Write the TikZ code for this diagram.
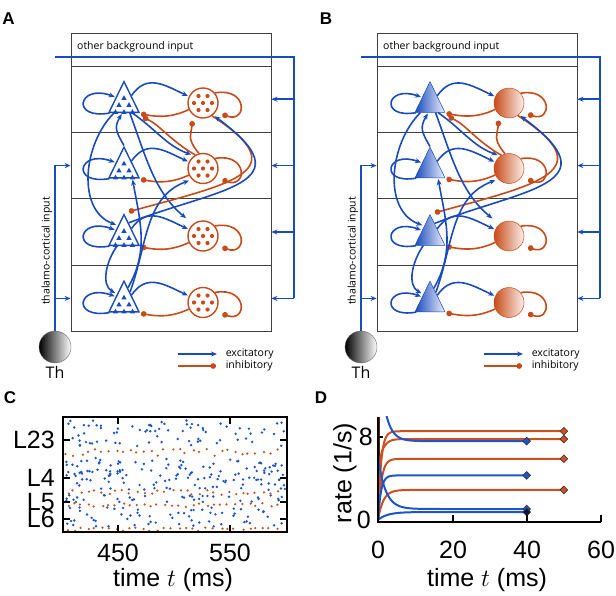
\documentclass[tikz,border=0pt]{standalone}
\usepackage{fontspec}
\setmainfont{Open Sans}
\newfontfamily\plotfont{Liberation Sans}
\usetikzlibrary{arrows.meta,positioning,shapes.geometric}
\definecolor{cblue}{RGB}{25,75,190}
\definecolor{cred}{RGB}{200,75,25}
\definecolor{pblue}{RGB}{30,85,205}
\definecolor{pred}{RGB}{205,80,30}

\begin{document}
\begin{tikzpicture}[x=1pt, y=-1pt,
    exc/.style={draw=cblue, line width=1.6pt, -{Stealth[length=6pt,width=5pt]}},
    inh/.style={draw=cred, line width=1.6pt, -{Circle[length=5.6pt]}},
    feed/.style={draw=cblue, line width=1.6pt},
    layer/.style={draw=black!75, line width=0.8pt, minimum width=200pt, minimum height=66.4pt, inner sep=0pt},
    epop/.style={isosceles triangle, isosceles triangle apex angle=52, shape border rotate=90,
                 draw=cblue, minimum width=30pt, minimum height=30pt, inner sep=0pt},
    ipop/.style={circle, draw=cred, minimum size=30pt, inner sep=0pt},
    thball/.style={circle, draw=black!60, line width=0.4pt, left color=black, right color=white,
                   minimum size=32pt, inner sep=0pt},
    txt/.style={font=\fontsize{10.5}{12}\selectfont, inner sep=0pt},
    ticklab/.style={font=\plotfont\fontsize{25}{30}\selectfont, inner sep=0pt},
    letter/.style={font=\plotfont\bfseries\fontsize{17}{20}\selectfont, inner sep=0pt},
]
\useasboundingbox (0,0) rectangle (616,595);

% Panel letters
\node[letter] (labA) at (8.5,19) {A};
\node[letter] (labB) at (326,19) {B};
\node[letter] (labC) at (10,398) {C};
\node[letter] (labD) at (321,398) {D};

% Microcircuit sketches (A: plain, B: shaded)
\foreach \p/\dx/\ow/\ea/\eb/\ia/\ib in {A/0/1.4pt/white/white/white/white, B/306/0.5pt/cblue/cblue!8/cred/cred!8}{
\begin{scope}[xshift=\dx]
    % layers
    \node[layer, minimum height=33pt] (bg\p) at (171,49.5) {};
    \node[txt, anchor=west] (bgtxt\p) at (77,47) {other background input};
    \foreach \l/\yc in {23/99.2, 4/165.6, 5/232, 6/298.4}
        \node[layer] (box\l\p) at (171,\yc) {};

    % populations
    \foreach \l/\yp in {23/103, 4/168.5, 5/236, 6/302.5}{
        \node[epop, line width=\ow, left color=\ea, right color=\eb] (E\l\p) at (124,\yp) {};
        \node[ipop, line width=\ow, left color=\ia, right color=\ib] (I\l\p) at (203,\yp) {};
    }

    % connections within a layer
    \foreach \l in {23,4,5,6}{
        \draw[exc, shorten >=1pt] (E\l\p.215) to[out=190,in=160,looseness=6] (E\l\p.145);
        \draw[exc, shorten >=1pt] (E\l\p.45) to[out=55,in=155,looseness=1.2] (I\l\p.155);
        \draw[inh, shorten >=5pt] (I\l\p.205) to[out=205,in=-10] (E\l\p.-40);
        \draw[inh, shorten >=7pt] (I\l\p.40) to[out=10,in=-20,looseness=4.5] (I\l\p.-35);
    }

    % connections between layers
    \draw[exc, shorten >=2pt] (E23\p.225) to[out=225,in=160] (E5\p.120);
    \draw[exc, shorten >=1pt] (E4\p.apex) to[out=120,in=-120,looseness=1.3] (E23\p.-100);
    \draw[exc, shorten >=3pt] (E23\p.-50) to[out=-35,in=160] (I4\p.125);
    \draw[exc, shorten >=9pt] (E23\p.-60) to[out=-70,in=140] (I5\p.130);
    \draw[inh, shorten >=10pt] (I4\p.120) to[out=150,in=-25] (E23\p.-45);
    \draw[inh, shorten >=6pt] (I4\p.105) to[out=130,in=-95,looseness=1.3] (I23\p.-130);
    \draw[inh, shorten >=5pt] (I23\p.-55) .. controls +(85,55) and +(110,-30) .. (E5\p.apex);
    \draw[exc, shorten >=2pt] (E5\p.70) .. controls +(90,-35) and +(95,70) .. (I23\p.-50);
    \draw[exc, shorten >=2pt] (E5\p.235) to[out=235,in=150] (E6\p.130);
    \draw[exc, shorten >=1pt] (E6\p.75) to[out=60,in=-80] (E4\p.-50);
    \draw[exc, shorten >=3pt] (E6\p.60) to[out=70,in=200] (I4\p.225);

    % background input
    \coordinate (bgin\p) at (55,57);
    \coordinate (bgout\p) at (294,57);
    \draw[feed] (bgin\p) -- (bgout\p) -- (bgout\p |- box6\p.east);
    \foreach \l in {23,4,5,6}
        \draw[exc] (bgout\p |- box\l\p.east) -- (box\l\p.east);

    % thalamus
    \node[thball] (Th\p) at (55,347) {};
    \node[font=\fontsize{16}{18}\selectfont, inner sep=0pt, below=3pt of Th\p] (Thtxt\p) {Th};
    \draw[exc] (Th\p.north) |- (box4\p.west);
    \draw[exc] (Th\p.north |- box6\p.west) -- (box6\p.west);
    \node[txt, rotate=90] (thtxt\p) at (47,251) {thalamo-cortical input};

    % legend
    \coordinate (lgE\p) at (178,354);
    \coordinate (lgI\p) at (178,366);
    \draw[exc] (lgE\p) -- ++(39,0) node[txt, anchor=west, xshift=8pt] {excitatory};
    \draw[inh] (lgI\p) -- ++(38,0) node[txt, anchor=west, xshift=9pt] {inhibitory};
\end{scope}
}

% cells inside the populations of A
\foreach \l in {23,4,5,6}{
    \foreach \u/\v in {0/-5, -5/2, 5/2, -8.5/9, 0/9, 8.5/9}
        \fill[cblue] (E\l A) ++(\u,\v) +(0,-2.8) -- +(-2.6,1.8) -- +(2.6,1.8) -- cycle;
    \foreach \u/\v in {-4.5/-7, 4.5/-7, -9/0, 0/0, 9/0, -4.5/7, 4.5/7}
        \fill[cred] (I\l A) ++(\u,\v) circle (2.1);
}

% C: spike raster
\pgfmathsetseed{42}
\foreach \n/\ya/\yb in {75/420/446, 140/458/490, 35/495/502, 60/507/527}{
    \foreach \k in {1,...,\n}{
        \pgfmathsetmacro\rx{65+220*rnd}
        \pgfmathsetmacro\ry{\ya+(\yb-\ya)*rnd}
        \fill[pblue] (\rx,\ry) circle (1.35);
    }
}
\foreach \ya/\yb in {449/456, 490/495, 503/507, 527/531}{
    \foreach \k in {0,...,30}{
        \pgfmathsetmacro\rx{65+7*\k+4*rnd}
        \pgfmathsetmacro\ry{\ya+(\yb-\ya)*rnd}
        \fill[pred] (\rx,\ry) circle (1.25);
    }
}
\draw[line width=2pt] (63,417) rectangle (287,532);
\foreach \y in {440,478,502,519}{
    \draw[line width=1.3pt] (63,\y) -- ++(7,0);
    \draw[line width=1.3pt] (287,\y) -- ++(-7,0);
}
\foreach \x in {118,230}{
    \draw[line width=1.3pt] (\x,417) -- ++(0,7);
    \draw[line width=1.3pt] (\x,532) -- ++(0,-7);
}
\foreach \lab/\y in {L23/440, L4/478, L5/502, L6/519}
    \node[ticklab, anchor=east] (yl\lab) at (55,\y) {\lab};
\node[ticklab] (xl450) at (118,553) {450};
\node[ticklab] (xl550) at (230,553) {550};
\node[ticklab] (xlabC) at (173,580) {time $t$ (ms)};

% D: population rates
\begin{scope}[shift={(378,520)}, x=3.717pt, y=10.375pt]
    \begin{scope}
        \clip (-1,-0.3) rectangle (62,9.93);
        \draw[line width=2pt, draw=black!55!cred] (0.25,0) -- (0.25,9.9);
        \draw[pred, line width=2pt] plot[domain=0:50, samples=150] (\x, {8.56*(1-exp(-\x/0.8))});
        \draw[pred, line width=2pt] plot[domain=0:50, samples=150] (\x, {7.8*(1-exp(-\x/0.3))-(\x/0.8)*exp(1-\x/0.8)});
        \draw[pred, line width=2pt] plot[domain=0:50, samples=150] (\x, {5.9*(1-exp(-\x/0.9))});
        \draw[pred, line width=2pt] plot[domain=0:50, samples=150] (\x, {2.9*(1-exp(-\x/1.4))});
        \draw[pblue, line width=2pt] plot[domain=0:40, samples=150] (\x, {7.6+9*exp(-\x/1.76)});
        \draw[pblue, line width=2pt] plot[domain=0:40, samples=150] (\x, {4.3*(1-exp(-\x/0.8))});
        \draw[pblue, line width=2pt] plot[domain=0:40, samples=150] (\x, {1.06+5*exp(-\x/2)});
        \draw[pblue, line width=2pt] plot[domain=0:40, samples=150] (\x, {0.77*(1-exp(-\x/2.5))});
    \end{scope}
    \foreach \i/\t/\r/\col in {1/50/8.56/pred, 2/50/7.8/pred, 3/50/5.9/pred, 4/50/2.9/pred,
                                5/40/7.6/pblue, 6/40/4.3/pblue, 7/40/1.06/pblue, 8/40/0.77/black!70!pblue}
        \node[diamond, draw=black!80, line width=0.6pt, fill=\col, minimum size=8pt, inner sep=0pt] (dm\i) at (\t,\r) {};
\end{scope}
\draw[line width=1.5pt] (378,417) -- (378,522) -- (601,522);
\foreach \x in {453,527,601}
    \draw[line width=1.3pt] (\x,522) -- ++(0,-7);
\draw[line width=1.3pt] (378,437) -- ++(5,0);
\node[ticklab, anchor=east] (yl8) at (373,437) {8};
\node[ticklab, anchor=east] (yl0) at (371,520) {0};
\node[ticklab, rotate=90] (ylabD) at (345,473) {rate (1/s)};
\foreach \x/\lab in {378/0, 453/20, 527/40, 601/60}
    \node[ticklab] (xd\lab) at (\x,550) {\lab};
\node[ticklab] (xlabD) at (487,580) {time $t$ (ms)};
\end{tikzpicture}
\end{document}
